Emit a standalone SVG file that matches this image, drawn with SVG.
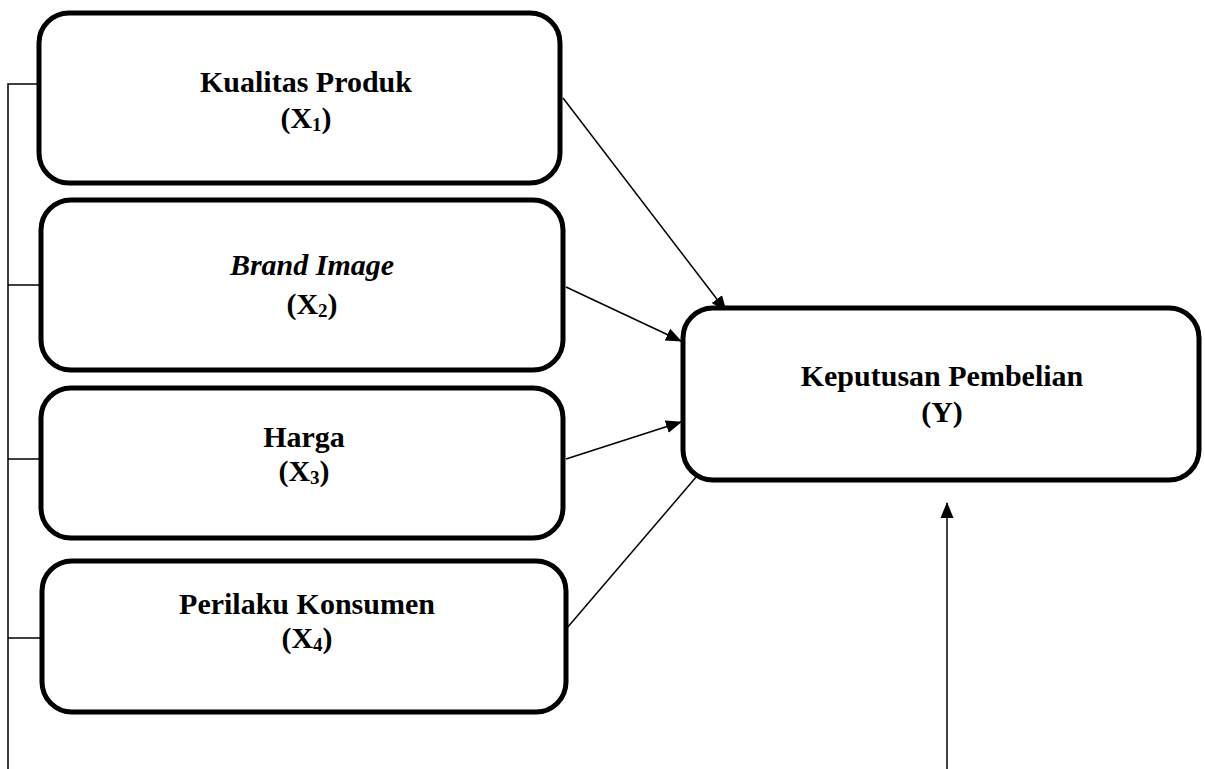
<svg xmlns="http://www.w3.org/2000/svg" width="1205" height="769" viewBox="0 0 1205 769">
<style>
.box{fill:#fff;stroke:#000;stroke-width:5}
.t{font-family:"Liberation Serif","Times New Roman",serif;font-weight:bold;font-size:30px;text-anchor:middle;fill:#000}
.sub{font-size:19px}
.ln{stroke:#000;stroke-width:1.5;fill:none}
</style>
<defs>
<marker id="ah" markerWidth="16" markerHeight="14" refX="15" refY="7" orient="auto" markerUnits="userSpaceOnUse" viewBox="0 0 16 14">
<path d="M0,0.5 L16,7 L0,13.5 z" fill="#000"/>
</marker>
</defs>
<g id="connectors">
<polyline class="ln" points="39,84 8,84 8,769"/>
<line class="ln" x1="8" y1="285" x2="41" y2="285"/>
<line class="ln" x1="8" y1="459" x2="41" y2="459"/>
<line class="ln" x1="8" y1="638" x2="42" y2="638"/>
<line class="ln" x1="563" y1="98" x2="726" y2="311" marker-end="url(#ah)"/>
<line class="ln" x1="566" y1="287" x2="681" y2="341" marker-end="url(#ah)"/>
<line class="ln" x1="566" y1="459" x2="681" y2="422" marker-end="url(#ah)"/>
<line class="ln" x1="567" y1="628" x2="697" y2="476"/>
<line class="ln" x1="947" y1="769" x2="947" y2="503" marker-end="url(#ah)"/>
</g>
<g id="x1">
<rect class="box" x="39" y="13" width="521" height="170" rx="30"/>
<text class="t" x="306" y="92">Kualitas Produk</text>
<text class="t" x="306" y="128">(X<tspan class="sub" dy="3">1</tspan><tspan dy="-3">)</tspan></text>
</g>
<g id="x2">
<rect class="box" x="41" y="200" width="522" height="170" rx="30"/>
<text class="t" x="312" y="275" font-style="italic">Brand Image</text>
<text class="t" x="312" y="314">(X<tspan class="sub" dy="3">2</tspan><tspan dy="-3">)</tspan></text>
</g>
<g id="x3">
<rect class="box" x="41" y="388" width="522" height="150" rx="30"/>
<text class="t" x="304" y="447">Harga</text>
<text class="t" x="304" y="481">(X<tspan class="sub" dy="3">3</tspan><tspan dy="-3">)</tspan></text>
</g>
<g id="x4">
<rect class="box" x="42" y="561" width="524" height="151" rx="30"/>
<text class="t" x="307" y="614">Perilaku Konsumen</text>
<text class="t" x="307" y="648">(X<tspan class="sub" dy="3">4</tspan><tspan dy="-3">)</tspan></text>
</g>
<g id="y">
<rect class="box" x="683" y="308" width="516" height="172" rx="30"/>
<text class="t" x="942" y="386">Keputusan Pembelian</text>
<text class="t" x="942" y="422">(Y)</text>
</g>
</svg>
